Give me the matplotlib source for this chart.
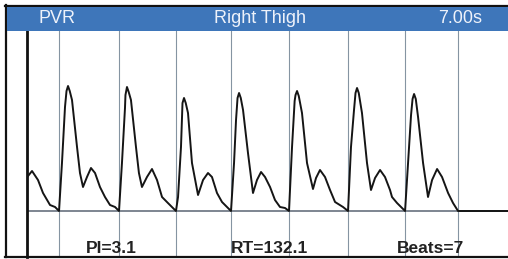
import matplotlib
matplotlib.use("Agg")
import matplotlib.pyplot as plt
from matplotlib.patches import Rectangle
from matplotlib.lines import Line2D

# header / summary
title_left = "PVR"
title_mid = "Right Thigh"
title_right = "7.00s"
summary = ["PI=3.1", "RT=132.1", "Beats=7"]

# pulse volume trace, time (s) vs amplitude (arbitrary units)
t = [0.015, 0.073, 0.160, 0.233, 0.335, 0.408, 0.466,
     0.509, 0.553, 0.575, 0.597, 0.622, 0.655, 0.728, 0.771, 0.815, 0.873, 0.931, 0.990, 1.062, 1.135, 1.208, 1.281, 1.339,
     1.382, 1.426, 1.433, 1.455, 1.480, 1.513, 1.586, 1.629, 1.673, 1.746, 1.819, 1.892, 1.965, 2.051, 2.124, 2.168,
     2.198, 2.241, 2.263, 2.285, 2.310, 2.343, 2.401, 2.489, 2.562, 2.634, 2.692, 2.765, 2.838, 2.925, 2.969,
     3.013, 3.042, 3.064, 3.086, 3.111, 3.144, 3.216, 3.289, 3.347, 3.406, 3.464, 3.537, 3.609, 3.682, 3.755, 3.813,
     3.857, 3.895, 3.908, 3.930, 3.955, 4.002, 4.075, 4.162, 4.206, 4.264, 4.337, 4.410, 4.483, 4.599, 4.672,
     4.715, 4.759, 4.781, 4.803, 4.828, 4.875, 4.948, 5.006, 5.065, 5.138, 5.210, 5.283, 5.312, 5.385, 5.502,
     5.560, 5.589, 5.611, 5.633, 5.658, 5.691, 5.764, 5.836, 5.895, 5.968, 6.040, 6.128, 6.200, 6.273,
     7.000]
amp = [35, 40, 31, 18, 6, 4, 0,
       48, 104, 120, 125, 120, 111, 64, 38, 24, 34, 43, 38, 24, 14, 6, 4, 0,
       48, 103, 116, 124, 119, 111, 64, 38, 24, 34, 42, 31, 14, 8, 3, 0,
       14, 64, 108, 113, 108, 98, 48, 16, 31, 38, 34, 18, 9, 3, 0,
       48, 91, 113, 118, 113, 101, 58, 18, 31, 39, 34, 24, 11, 4, 3, 0,
       64, 110, 116, 120, 115, 98, 48, 22, 33, 41, 34, 21, 9, 4, 0,
       64, 101, 118, 123, 118, 98, 48, 21, 33, 41, 34, 21, 14, 8, 0,
       64, 96, 112, 117, 112, 94, 48, 14, 31, 42, 34, 18, 8, 0,
       0]

# beat onset markers (s)
beats = [0.47, 1.34, 2.17, 2.97, 3.81, 4.67, 5.50, 6.27]

W, H = 508, 259
fig = plt.figure(figsize=(W / 100, H / 100), dpi=100)

ax = fig.add_axes([27 / W, 1 - 257 / H, (W - 27) / W, 226 / H])
ax.set_xlim(0, 7.0)
ax.set_ylim(-46, 180)
for s in ["top", "right", "bottom"]:
    ax.spines[s].set_visible(False)
ax.spines["left"].set_linewidth(2.0)
ax.spines["left"].set_color("#111111")
ax.set_xticks([])
ax.set_yticks([])

for b in beats:
    ax.axvline(b, color="#8594a2", lw=0.8, zorder=1)
ax.axhline(0, color="#7d8590", lw=1.4, zorder=1)
ax.plot(t, amp, color="#151515", lw=1.4, zorder=3)

# frame and header band
fig.add_artist(Line2D([5 / W, 1], [1 - 5.5 / H, 1 - 5.5 / H], color="#111111", lw=1.6))
fig.add_artist(Line2D([6 / W, 6 / W], [1 - 257 / H, 1 - 5 / H], color="#111111", lw=1.6))
fig.add_artist(Line2D([5 / W, 1], [1 - 257 / H, 1 - 257 / H], color="#111111", lw=1.6))
fig.add_artist(Rectangle((7 / W, 1 - 31 / H), 1, 24 / H, transform=fig.transFigure,
                         facecolor="#3e76ba", edgecolor="none", zorder=2))

hy = 1 - 18.5 / H
fig.text(57 / W, hy, title_left, color="#eef2fa", fontsize=13, family="Liberation Sans",
         ha="center", va="center", zorder=3)
fig.text(260 / W, hy, title_mid, color="#eef2fa", fontsize=13, family="Liberation Sans",
         ha="center", va="center", zorder=3)
fig.text(460 / W, hy, title_right, color="#eef2fa", fontsize=13, family="Liberation Sans",
         ha="center", va="center", zorder=3)

sy = 1 - 248.5 / H
for lbl, x in zip(summary, [111, 270, 430]):
    fig.text(x / W, sy, lbl, color="#222222", fontsize=12.5, fontweight="bold",
             family="Liberation Sans", ha="center", va="center")

fig.savefig("out.png", dpi=100, facecolor="white")
